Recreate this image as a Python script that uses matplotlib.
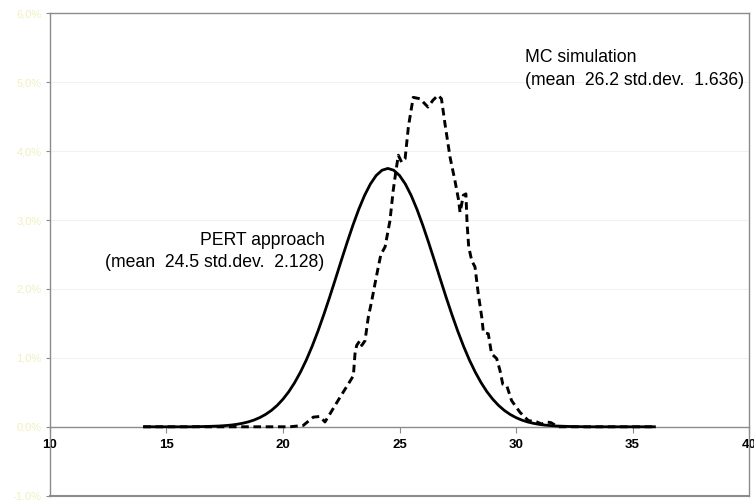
import numpy as np
import matplotlib
matplotlib.use("Agg")
import matplotlib.pyplot as plt
from matplotlib.ticker import FuncFormatter

plt.rcParams['font.family'] = ['Liberation Sans', 'DejaVu Sans']

# PERT approach curve (percent), x from 14 to 36 step 0.25
pert_x = np.arange(14.0, 36.001, 0.25)
pert_y = [0, 0, 0, 0, 0, 0, 0, 0, 0,
          0.002, 0.003, 0.005, 0.008, 0.011, 0.017, 0.024, 0.035, 0.050, 0.070,
          0.097, 0.133, 0.179, 0.237, 0.310, 0.401, 0.510, 0.641, 0.794, 0.969,
          1.168, 1.388, 1.627, 1.880, 2.144, 2.411, 2.673, 2.924, 3.155, 3.357,
          3.523, 3.647, 3.723, 3.749, 3.723, 3.647, 3.523, 3.357, 3.155, 2.924,
          2.673, 2.411, 2.144, 1.880, 1.627, 1.388, 1.168, 0.969, 0.794, 0.641,
          0.510, 0.401, 0.310, 0.237, 0.179, 0.133, 0.097, 0.070, 0.050, 0.035,
          0.024, 0.017, 0.011, 0.008, 0.005, 0.003, 0.002,
          0, 0, 0, 0, 0, 0, 0, 0, 0, 0, 0, 0, 0]

# MC simulation curve (percent)
mc_x = [14.0, 20.3, 20.87, 21.3, 21.59, 21.8, 22.02, 22.45, 22.8, 23.02,
        23.09, 23.16, 23.3, 23.38, 23.52, 23.66, 23.81, 23.95, 24.09, 24.2,
        24.38, 24.59, 24.73, 24.85, 24.95, 25.09, 25.24, 25.38, 25.52, 25.59,
        25.88, 26.22, 26.44, 26.65, 26.8, 26.95, 27.17, 27.38, 27.53, 27.6,
        27.74, 27.85, 27.9, 27.97, 28.1, 28.24, 28.38, 28.53, 28.6, 28.81,
        28.95, 29.17, 29.31, 29.43, 29.6, 29.81, 30.17, 30.53, 30.89, 31.1,
        31.3, 31.5, 31.8, 36.0]
mc_y = [0, 0, 0.02, 0.14, 0.15, 0.07, 0.19, 0.43, 0.62, 0.74,
        1.06, 1.18, 1.25, 1.18, 1.25, 1.59, 1.83, 2.08, 2.32, 2.50,
        2.61, 2.99, 3.43, 3.72, 3.94, 3.84, 3.89, 4.35, 4.64, 4.78,
        4.76, 4.64, 4.74, 4.81, 4.76, 4.40, 3.91, 3.57, 3.30, 3.11,
        3.36, 3.38, 2.95, 2.61, 2.41, 2.32, 1.93, 1.59, 1.37, 1.35,
        1.06, 0.99, 0.82, 0.62, 0.60, 0.38, 0.21, 0.09, 0.07, 0.04,
        0.07, 0.06, 0.0, 0]

x_ticks = [10, 15, 20, 25, 30, 35, 40]
y_ticks = [-1, 0, 1, 2, 3, 4, 5, 6]

fig = plt.figure(figsize=(7.54, 5.0), dpi=100)
ax = fig.add_axes([0.0663, 0.0086, 0.9271, 0.9648])

frame_col = '#8c8c8c'
ax.set_xlim(10, 40)
ax.set_ylim(-1, 6)

for yv in y_ticks[2:-1]:
    ax.axhline(yv, color='#f2f2f2', lw=0.8, zorder=0)

ax.plot(pert_x, pert_y, color='black', lw=2.0, solid_capstyle='butt', zorder=3)
ax.plot(mc_x, mc_y, color='black', lw=2.1, linestyle=(0, (2.6, 1.6)), zorder=3)

for s in ['left', 'right', 'top']:
    ax.spines[s].set_color(frame_col)
    ax.spines[s].set_linewidth(1.0)
ax.spines['bottom'].set_position(('data', 0))
ax.spines['bottom'].set_color(frame_col)
ax.spines['bottom'].set_linewidth(1.0)
ax.plot([0, 1], [0, 0], transform=ax.transAxes, color=frame_col, lw=1.5,
        clip_on=False, zorder=4)

ax.set_xticks(x_ticks)
ax.set_yticks(y_ticks)
ax.yaxis.set_major_formatter(FuncFormatter(lambda v, p: f"{v:.1f}%".replace('.', ',')))
ax.tick_params(axis='x', direction='out', length=4, color=frame_col, pad=5,
               labelsize=9.5)
ax.tick_params(axis='y', direction='out', length=3, color=frame_col, pad=3,
               labelsize=8, labelcolor='#f0f0c0')
for lab in ax.get_xticklabels():
    lab.set_fontweight('bold')

fs = 12.7
ax.text(30.39, 5.36, "MC simulation", fontsize=fs, ha='left', va='center')
ax.text(30.39, 5.03, "(mean  26.2 std.dev.  1.636)", fontsize=fs, ha='left', va='center')
ax.text(21.8, 2.70, "PERT approach", fontsize=fs, ha='right', va='center')
ax.text(21.75, 2.38, "(mean  24.5 std.dev.  2.128)", fontsize=fs, ha='right', va='center')

fig.savefig("out.png", dpi=100)
